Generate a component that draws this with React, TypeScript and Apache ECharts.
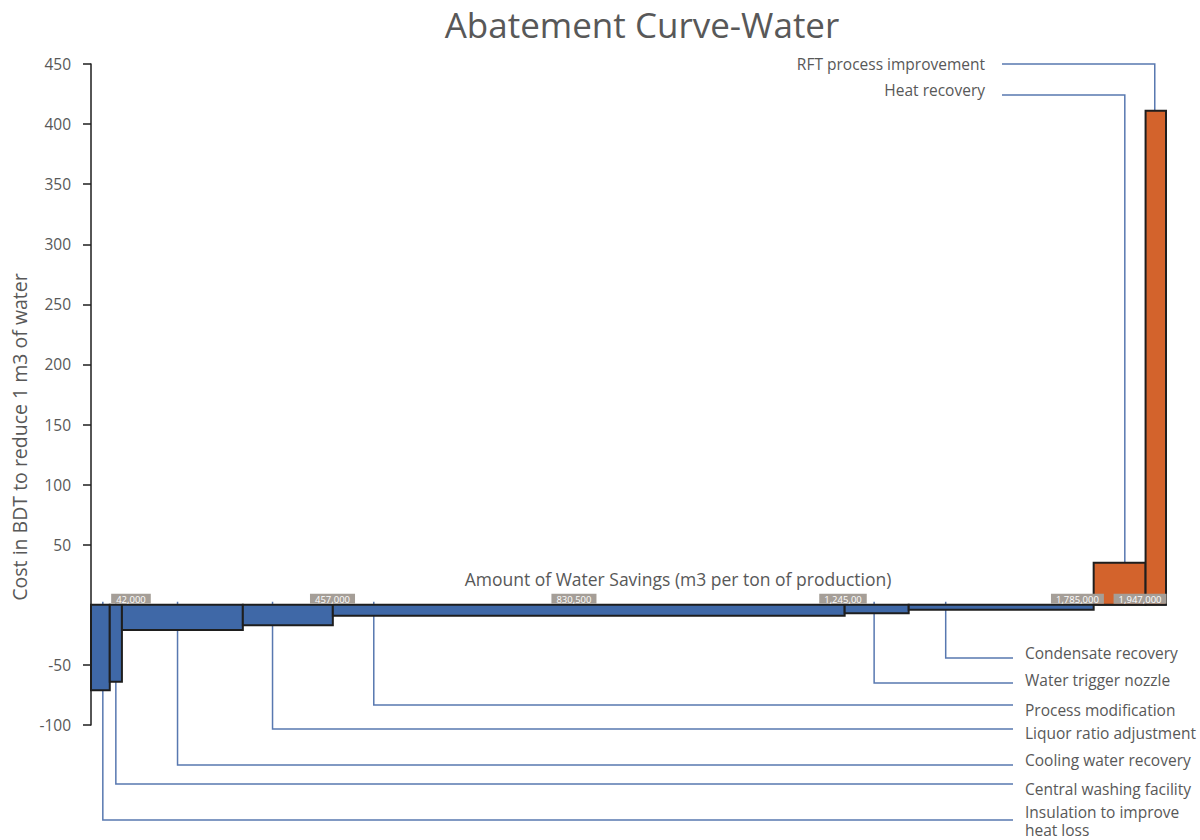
import React, { useEffect, useRef } from 'react';
import * as echarts from 'echarts';

// ---------- data ----------
const measures = [
  'Insulation to improve\nheat loss',
  'Central washing facility',
  'Cooling water recovery',
  'Liquor ratio adjustment',
  'Process modification',
  'Water trigger nozzle',
  'Condensate recovery',
  'Heat recovery',
  'RFT process improvement',
];
// water saving of each measure (m3) = bar width
const savings = [34000, 22000, 219000, 163000, 927000, 116000, 335000, 94000, 37000];
// cost in BDT to reduce 1 m3 of water = bar height
const costs = [-71, -64, -21, -17, -9, -7, -4, 35, 411];

// cumulative savings labels shown along the zero line, and where they sit (m3)
const cumulativeLabels = ['42,000', '457,000', '830,500', '1,245,00', '1,785,000', '1,947,000'];
const cumulativeLabelAt = [72400, 437400, 874700, 1362000, 1786600, 1900000];

const yMin = -100;
const yMax = 450;
const yStep = 50;
const yTickValues = [-100, -50, 50, 100, 150, 200, 250, 300, 350, 400, 450];
const xMax = 1947000;

// ---------- layout / style ----------
const leaderFrac = [0.63, 0.5, 0.46, 0.33, 0.08, 0.46, 0.2, 0.6, 0.45];
const leaderLineY = [820, 784, 765, 729, 705, 683, 658, 95, 64];
const leaderTextY = [821, 789, 760, 733, 710, 680, 653, 90, 64];

const FONT = '"Open Sans", "Noto Sans", sans-serif';
const TEXT = '#585858';
const BLUE = '#3f68a7';
const ORANGE = '#d3632c';
const LEADER = '#5878b0';
const BORDER = '#1e1e1e';

export default function App() {
  const ref = useRef<HTMLDivElement>(null);

  useEffect(() => {
    const chart = echarts.init(ref.current!, null, { renderer: 'svg' });

    const starts: number[] = [];
    let acc = 0;
    savings.forEach((s) => {
      starts.push(acc);
      acc += s;
    });
    const barData = savings.map((s, i) => [starts[i], starts[i] + s, costs[i], i]);
    const leaderData = savings.map((s, i) => [starts[i] + s * leaderFrac[i], costs[i], i]);
    const tickData = cumulativeLabels.map((_, i) => [cumulativeLabelAt[i], 0, i]);

    chart.setOption({
      animation: false,
      grid: { left: 91, right: 34, top: 64, bottom: 115 },
      xAxis: {
        type: 'value',
        min: 0,
        max: xMax,
        axisLine: { show: true, onZero: true, lineStyle: { color: BORDER, width: 1.5 } },
        axisTick: { show: false },
        axisLabel: { show: false },
        splitLine: { show: false },
      },
      yAxis: {
        type: 'value',
        min: yMin,
        max: yMax,
        interval: yStep,
        axisLine: { show: true, onZero: false, lineStyle: { color: BORDER, width: 1.5 } },
        axisTick: { show: true, length: 8, customValues: yTickValues, lineStyle: { color: BORDER, width: 1.5 } },
        axisLabel: {
          customValues: yTickValues,
          color: TEXT,
          fontSize: 15.5,
          margin: 20,
          fontFamily: FONT,
        },
        splitLine: { show: false },
      },
      graphic: [
        {
          type: 'text',
          x: 642,
          y: 24,
          style: {
            text: 'Abatement Curve-Water',
            align: 'center',
            verticalAlign: 'middle',
            fontSize: 35,
            lineHeight: 38,
            fontFamily: FONT,
            fill: TEXT,
          },
        },
        {
          type: 'text',
          x: 678,
          y: 579,
          style: {
            text: 'Amount of Water Savings (m3 per ton of production)',
            align: 'center',
            verticalAlign: 'middle',
            fontSize: 17.5,
            fontFamily: FONT,
            fill: TEXT,
          },
        },
        {
          type: 'text',
          x: 19,
          y: 437,
          rotation: Math.PI / 2,
          style: {
            text: 'Cost in BDT to reduce 1 m3 of water',
            align: 'center',
            verticalAlign: 'middle',
            fontSize: 19.5,
            fontFamily: FONT,
            fill: TEXT,
          },
        },
      ],
      series: [
        {
          type: 'custom',
          name: 'leaders',
          z: 1,
          data: leaderData,
          encode: { x: 0, y: 1 },
          renderItem: (params: any, api: any) => {
            const i = api.value(2);
            const x = api.value(0);
            const v = api.value(1);
            const pBar = api.coord([x, v]);
            const p0 = api.coord([x, 0]);
            const ly = leaderLineY[i];
            const ty = leaderTextY[i];
            const neg = v < 0;
            const endX = neg ? 1013 : 1002;
            return {
              type: 'group',
              children: [
                {
                  type: 'polyline',
                  shape: {
                    points: [
                      [pBar[0], neg ? p0[1] - 3 : pBar[1]],
                      [pBar[0], ly],
                      [endX, ly],
                    ],
                  },
                  style: { stroke: LEADER, lineWidth: 1.5, fill: 'none' },
                },
                {
                  type: 'text',
                  style: {
                    text: measures[i],
                    x: neg ? 1025 : 985,
                    y: ty,
                    align: neg ? 'left' : 'right',
                    verticalAlign: 'middle',
                    fontSize: 15.5,
                    lineHeight: 18.5,
                    fontFamily: FONT,
                    fill: TEXT,
                  },
                },
              ],
            };
          },
        },
        {
          type: 'custom',
          name: 'bars',
          z: 2,
          data: barData,
          encode: { x: [0, 1], y: 2 },
          renderItem: (params: any, api: any) => {
            const x0 = api.value(0);
            const x1 = api.value(1);
            const v = api.value(2);
            const p0 = api.coord([x0, 0]);
            const p1 = api.coord([x1, v]);
            return {
              type: 'rect',
              shape: {
                x: p0[0],
                y: Math.min(p0[1], p1[1]),
                width: p1[0] - p0[0],
                height: Math.abs(p1[1] - p0[1]),
              },
              style: { fill: v < 0 ? BLUE : ORANGE, stroke: BORDER, lineWidth: 2 },
            };
          },
        },
        {
          type: 'custom',
          name: 'cumulative',
          z: 3,
          data: tickData,
          encode: { x: 0, y: 1 },
          renderItem: (params: any, api: any) => {
            const i = api.value(2);
            const p = api.coord([api.value(0), 0]);
            return {
              type: 'text',
              style: {
                text: cumulativeLabels[i],
                x: p[0],
                y: p[1] - 1,
                align: 'center',
                verticalAlign: 'bottom',
                fontSize: 9.5,
                lineHeight: 9,
                fontFamily: FONT,
                fill: '#ffffff',
                backgroundColor: '#a59e97',
                padding: [1, 5, 0, 5],
              },
            };
          },
        },
      ],
    });

    return () => chart.dispose();
  }, []);

  return (
    <div
      ref={ref}
      style={{ position: 'absolute', left: 0, top: 0, width: 1200, height: 840 }}
    />
  );
}
